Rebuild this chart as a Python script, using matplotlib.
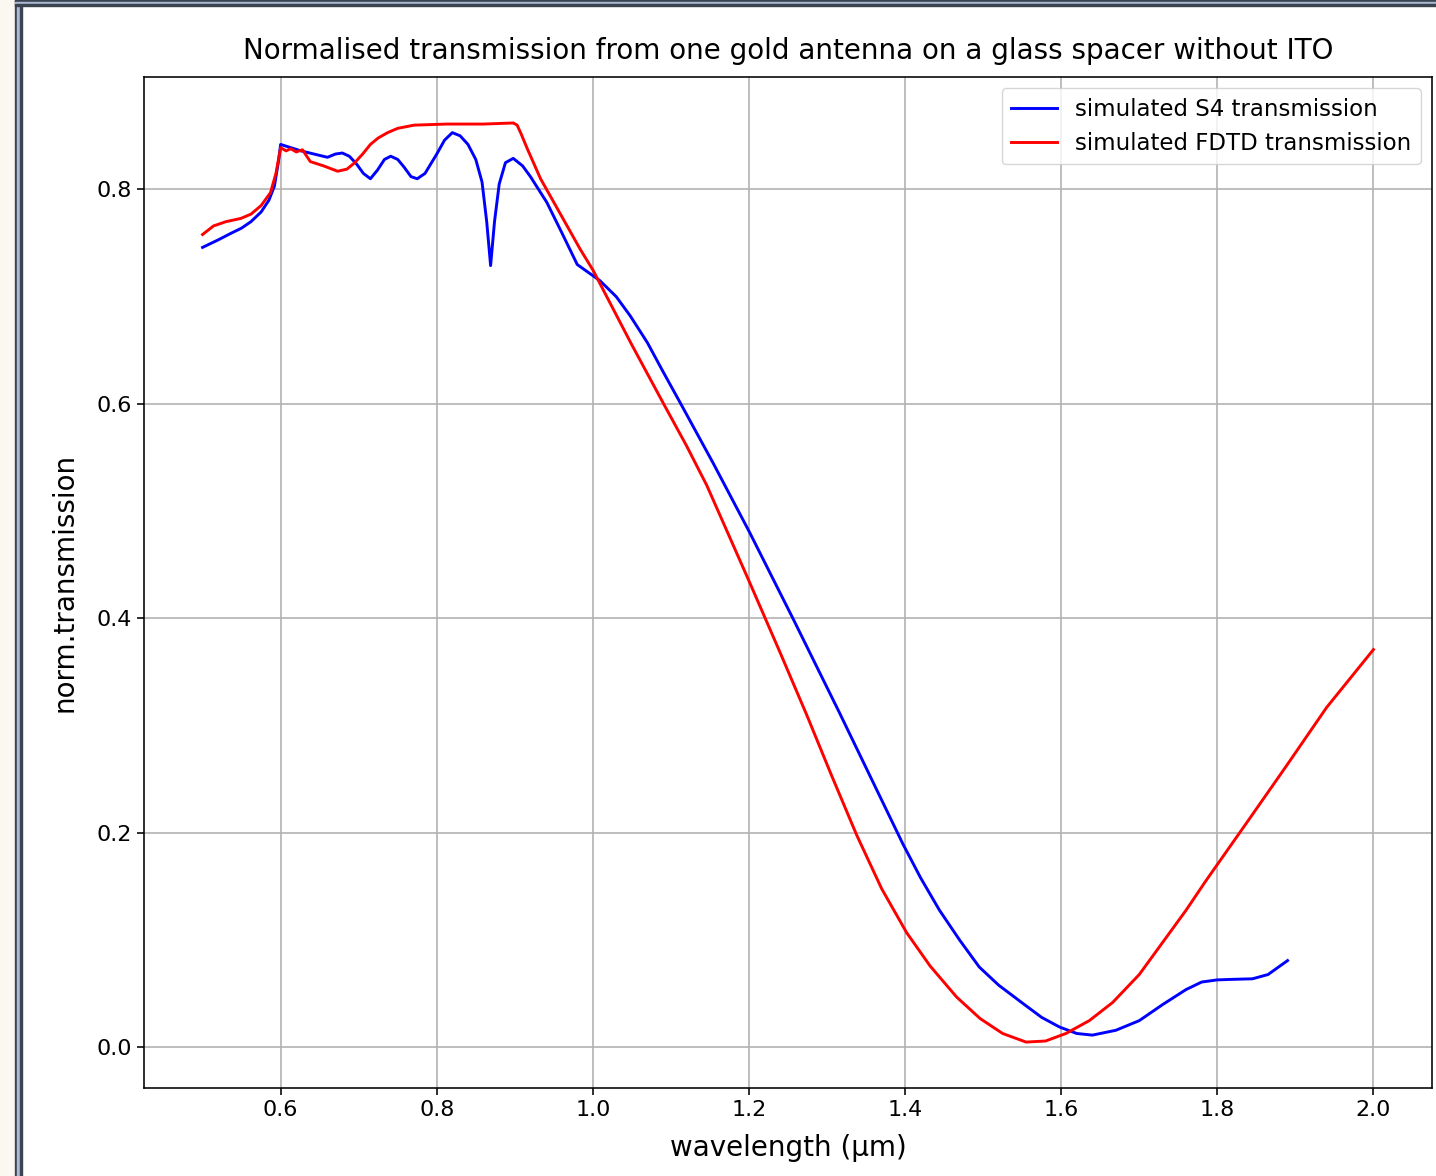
"""Normalised transmission of a gold antenna on a glass spacer (S4 vs FDTD) -> out.png."""
import matplotlib
matplotlib.use("Agg")
import matplotlib.pyplot as plt
from matplotlib.patches import Rectangle

# values
s4_wl = [0.500, 0.520, 0.536, 0.550, 0.562, 0.575, 0.585, 0.592, 0.597, 0.600,
         0.626, 0.660, 0.670, 0.679, 0.688, 0.697, 0.706, 0.715, 0.724, 0.733,
         0.741, 0.750, 0.758, 0.767, 0.775, 0.785, 0.800, 0.810, 0.820, 0.830,
         0.840, 0.850, 0.858, 0.864, 0.869, 0.874, 0.880, 0.888, 0.898, 0.910,
         0.920, 0.941, 0.960, 0.980, 1.009, 1.030, 1.048, 1.070, 1.090, 1.112,
         1.154, 1.201, 1.257, 1.316, 1.397, 1.420, 1.444, 1.470, 1.495, 1.520,
         1.551, 1.575, 1.598, 1.620, 1.640, 1.670, 1.700, 1.730, 1.760, 1.780,
         1.800, 1.820, 1.845, 1.865, 1.890]
s4_tr = [0.746, 0.753, 0.759, 0.764, 0.770, 0.779, 0.790, 0.803, 0.825, 0.842,
         0.836, 0.830, 0.833, 0.834, 0.831, 0.824, 0.815, 0.810, 0.818, 0.828,
         0.831, 0.828, 0.821, 0.812, 0.810, 0.815, 0.833, 0.846, 0.853, 0.850,
         0.842, 0.828, 0.807, 0.770, 0.729, 0.770, 0.805, 0.825, 0.829, 0.822,
         0.812, 0.788, 0.760, 0.730, 0.715, 0.700, 0.682, 0.657, 0.630, 0.601,
         0.545, 0.480, 0.399, 0.312, 0.190, 0.158, 0.128, 0.100, 0.075, 0.058,
         0.041, 0.028, 0.019, 0.013, 0.0115, 0.016, 0.025, 0.040, 0.054, 0.061,
         0.063, 0.0635, 0.064, 0.068, 0.081]

fdtd_wl = [0.500, 0.514, 0.530, 0.549, 0.562, 0.575, 0.587, 0.594, 0.600, 0.607,
           0.613, 0.620, 0.628, 0.638, 0.655, 0.673, 0.685, 0.695, 0.705, 0.715,
           0.725, 0.737, 0.750, 0.771, 0.813, 0.860, 0.898, 0.903, 0.908, 0.916,
           0.933, 0.984, 1.000, 1.050, 1.090, 1.120, 1.146, 1.200, 1.240, 1.274,
           1.305, 1.338, 1.370, 1.402, 1.432, 1.466, 1.496, 1.525, 1.555, 1.580,
           1.606, 1.636, 1.666, 1.700, 1.734, 1.760, 1.785, 1.840, 1.888, 1.940,
           2.000]
fdtd_tr = [0.758, 0.766, 0.770, 0.773, 0.777, 0.785, 0.797, 0.815, 0.839, 0.836,
           0.838, 0.835, 0.837, 0.826, 0.822, 0.817, 0.819, 0.825, 0.833, 0.842,
           0.848, 0.853, 0.857, 0.860, 0.861, 0.861, 0.862, 0.860, 0.852, 0.838,
           0.810, 0.744, 0.725, 0.655, 0.601, 0.561, 0.524, 0.435, 0.368, 0.310,
           0.255, 0.198, 0.148, 0.107, 0.076, 0.047, 0.027, 0.013, 0.005, 0.006,
           0.013, 0.025, 0.042, 0.068, 0.102, 0.128, 0.155, 0.212, 0.262, 0.317,
           0.371]

fig = plt.figure(figsize=(14.36, 11.76), dpi=100)
ax = fig.add_axes([0.1003, 0.0748, 0.8969, 0.8597])

ax.plot(s4_wl, s4_tr, color="b", lw=2.1, label="simulated S4 transmission")
ax.plot(fdtd_wl, fdtd_tr, color="r", lw=2.1, label="simulated FDTD transmission")

ax.set_xticks([0.6, 0.8, 1.0, 1.2, 1.4, 1.6, 1.8, 2.0])
ax.set_yticks([0.0, 0.2, 0.4, 0.6, 0.8])
ax.grid(True, color="#b0b0b0", lw=1.15)
ax.tick_params(labelsize=16, width=1.15, length=5)
for s in ax.spines.values():
    s.set_linewidth(1.15)

ax.set_xlabel("wavelength (µm)", fontsize=20, labelpad=10)
ax.set_ylabel("norm.transmission", fontsize=20, labelpad=13)
ax.set_title("Normalised transmission from one gold antenna on a glass spacer without ITO",
             fontsize=20, pad=13)
ax.legend(loc="upper right", fontsize=16.5)

# screenshot window frame (top and left edges)
fig.patches.append(Rectangle((0, 0), 15 / 1436, 1, transform=fig.transFigure,
                             color="#fbf8f2", zorder=0))
for x0, w, c in [(15, 2, "#3c4350"), (17, 3, "#a9bad2"), (20, 2, "#3c4350")]:
    fig.patches.append(Rectangle((x0 / 1436, 0), w / 1436, 1, transform=fig.transFigure,
                                 color=c, zorder=5))
for y0, h, c in [(0, 2, "#3c4350"), (2, 2, "#a9bad2"), (4, 1.5, "#3c4350")]:
    fig.patches.append(Rectangle((15 / 1436, 1 - (y0 + h) / 1176), 1, h / 1176,
                                 transform=fig.transFigure, color=c, zorder=5))

fig.savefig("out.png", dpi=100)
